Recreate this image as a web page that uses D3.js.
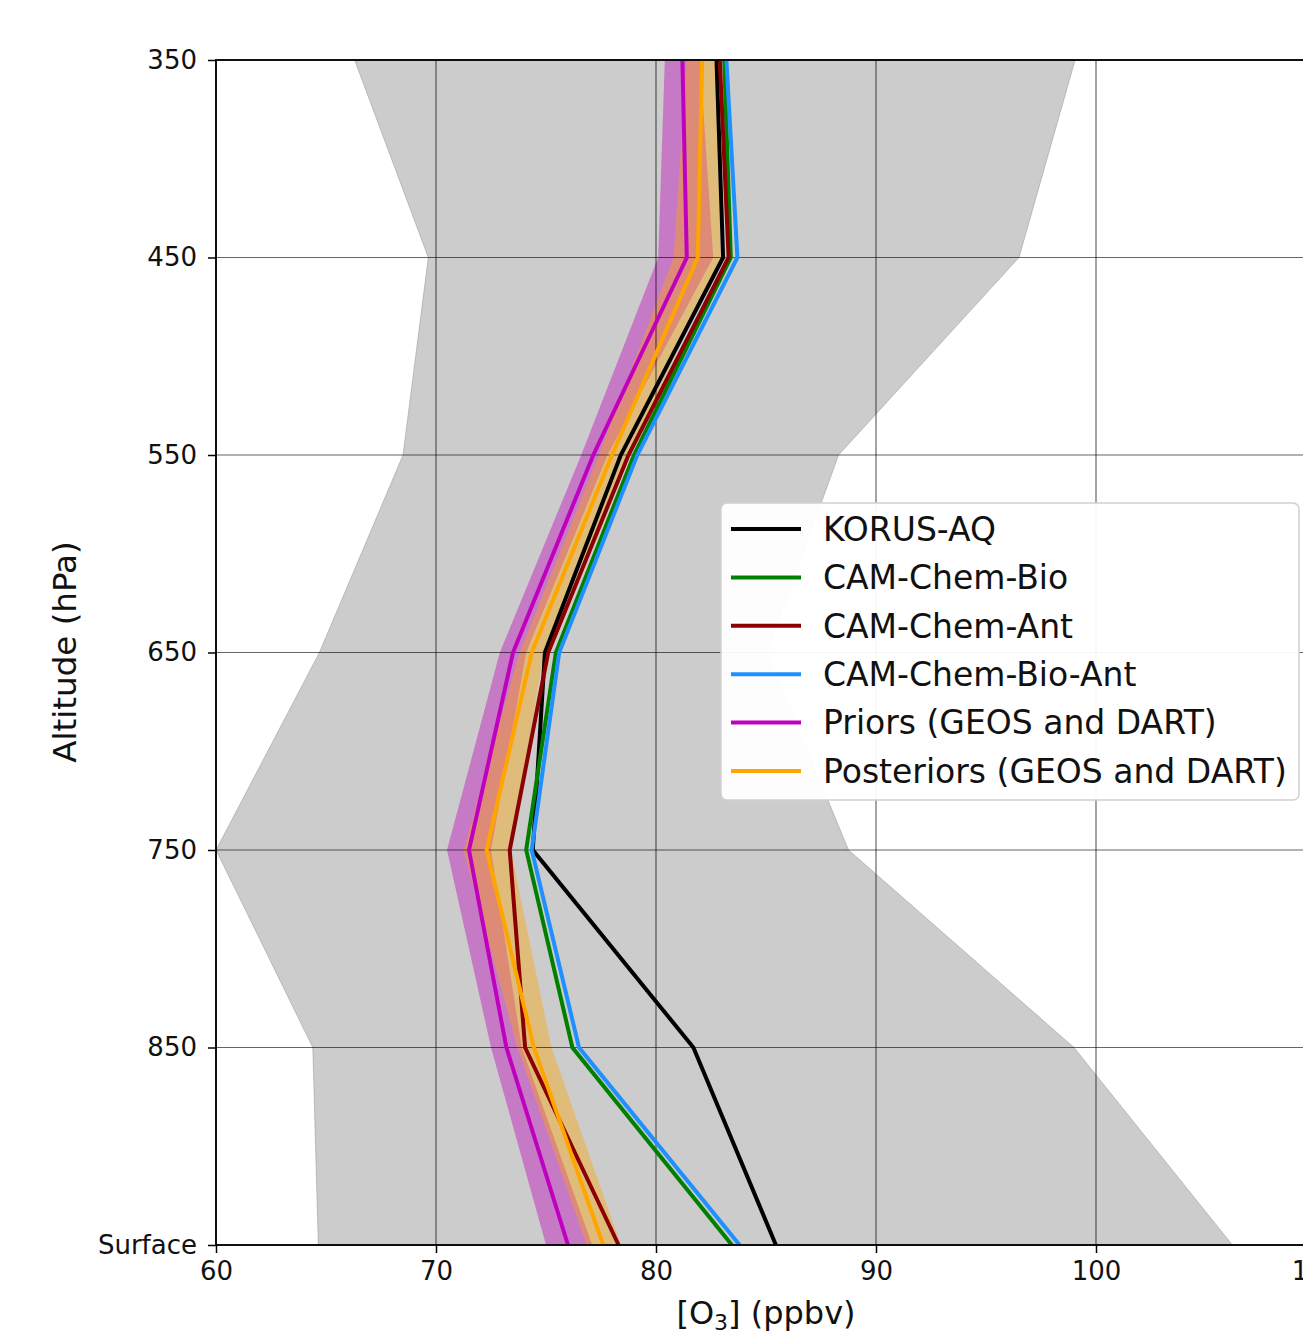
<!DOCTYPE html>
<html>
<head>
<meta charset="utf-8">
<script src="https://cdn.jsdelivr.net/npm/d3@7"></script>
<style>
  body { margin: 0; background: #fff; }
  svg { display: block; font-family: "DejaVu Sans", sans-serif; }
</style>
</head>
<body>
<script>
// pressure levels (950 stands for the surface level)
var levels = [350, 450, 550, 650, 750, 850, 950];
var levelLabels = ["350", "450", "550", "650", "750", "850", "Surface"];
var xTicks = [60, 70, 80, 90, 100, 110];

// O3 profiles (ppbv), one value per level
var korus     = [82.75, 83.05, 78.4, 74.95, 74.4, 81.7, 85.45];
var camBio    = [83.1, 83.4, 79.0, 75.45, 74.1, 76.2, 83.45];
var camAnt    = [82.9, 83.3, 78.75, 75.1, 73.35, 74.05, 78.3];
var camBioAnt = [83.2, 83.7, 79.15, 75.6, 74.35, 76.5, 83.8];
var priors    = [81.2, 81.4, 77.15, 73.5, 71.5, 73.2, 76.0];
var posts     = [82.1, 81.9, 78.0, 74.35, 72.3, 74.45, 77.6];

// spread of priors / posteriors
var priorsLo = [80.4, 80.1, 76.6, 72.9, 70.5, 72.5, 75.0];
var priorsHi = [82.0, 82.6, 77.8, 74.1, 72.5, 73.9, 77.1];
var postsLo  = [81.4, 80.8, 77.4, 73.8, 71.25, 73.7, 76.85];
var postsHi  = [82.7, 82.95, 78.75, 74.9, 73.4, 75.25, 78.4];

// KORUS-AQ range (grey envelope)
var obsLo = [66.3, 69.65, 68.5, 64.7, 60.0, 64.4, 64.65];
var obsHi = [99.05, 96.5, 88.3, 85.05, 88.75, 99.0, 106.2];

var seriesNames = ["KORUS-AQ", "CAM-Chem-Bio", "CAM-Chem-Ant", "CAM-Chem-Bio-Ant",
                   "Priors (GEOS and DART)", "Posteriors (GEOS and DART)"];
var seriesValues = [korus, camBio, camAnt, camBioAnt, priors, posts];
var seriesColors = ["#000000", "#008000", "#8b0000", "#1e90ff", "#bf00bf", "#ffa500"];

var W = 1303, H = 1335;
var pLeft = 216, pTop = 60, pRight = 1316, pBottom = 1245;

var svg = d3.select("body").append("svg")
    .attr("width", W)
    .attr("height", H);

var x = d3.scaleLinear().domain([60, 110]).range([pLeft, pRight]);
var y = d3.scaleLinear().domain([350, 950]).range([pTop, pBottom]);

function rows(lo, hi) {
    return levels.map(function(p, i) { return {p: p, lo: lo[i], hi: hi[i]}; });
}

var area = d3.area()
    .y(function(d) { return y(d.p); })
    .x0(function(d) { return x(d.lo); })
    .x1(function(d) { return x(d.hi); });

var line = d3.line()
    .x(function(d) { return x(d.v); })
    .y(function(d) { return y(d.p); });

var g = svg.append("g");

// envelope and bands
g.append("path")
    .attr("d", area(rows(obsLo, obsHi)))
    .attr("fill", "#808080").attr("fill-opacity", 0.4)
    .attr("stroke", "#808080").attr("stroke-opacity", 0.4).attr("stroke-width", 1);

g.append("path")
    .attr("d", area(rows(priorsLo, priorsHi)))
    .attr("fill", "#bf00bf").attr("fill-opacity", 0.4);

g.append("path")
    .attr("d", area(rows(postsLo, postsHi)))
    .attr("fill", "#ffa500").attr("fill-opacity", 0.4);

// grid
var grid = g.append("g").attr("stroke", "#000").attr("stroke-opacity", 0.6).attr("stroke-width", 1.2);
xTicks.forEach(function(t) {
    grid.append("line").attr("x1", x(t)).attr("x2", x(t)).attr("y1", pTop).attr("y2", pBottom);
});
levels.forEach(function(p) {
    grid.append("line").attr("x1", pLeft).attr("x2", pRight).attr("y1", y(p)).attr("y2", y(p));
});

// profile lines
seriesValues.forEach(function(vals, i) {
    var pts = levels.map(function(p, j) { return {p: p, v: vals[j]}; });
    g.append("path")
        .attr("d", line(pts))
        .attr("fill", "none")
        .attr("stroke", seriesColors[i])
        .attr("stroke-width", 4)
        .attr("stroke-linejoin", "miter");
});

// frame
svg.append("rect")
    .attr("x", pLeft).attr("y", pTop)
    .attr("width", pRight - pLeft).attr("height", pBottom - pTop)
    .attr("fill", "none").attr("stroke", "#000").attr("stroke-width", 1.8);

// axes
var xAxis = svg.append("g")
    .attr("transform", "translate(0," + pBottom + ")")
    .call(d3.axisBottom(x).tickValues(xTicks).tickFormat(d3.format("d")).tickSize(8).tickPadding(9).tickSizeOuter(0));

var yAxis = svg.append("g")
    .attr("transform", "translate(" + pLeft + ",0)")
    .call(d3.axisLeft(y).tickValues(levels)
        .tickFormat(function(d, i) { return levelLabels[i]; })
        .tickSize(8).tickPadding(11).tickSizeOuter(0));

[xAxis, yAxis].forEach(function(a) {
    a.select(".domain").remove();
    a.selectAll(".tick line").attr("stroke", "#000").attr("stroke-width", 1.5);
    a.selectAll(".tick text")
        .attr("fill", "#111")
        .style("font-family", "DejaVu Sans")
        .style("font-size", "26px");
});

// axis labels
var xl = svg.append("text")
    .attr("x", (pLeft + pRight) / 2)
    .attr("y", 1324)
    .attr("text-anchor", "middle")
    .style("font-size", "32px")
    .attr("fill", "#111");
xl.append("tspan").text("[O");
xl.append("tspan").text("3").attr("font-size", "22px").attr("dy", 6);
xl.append("tspan").text("] (ppbv)").attr("dy", -6);

svg.append("text")
    .attr("transform", "translate(76,652) rotate(-90)")
    .attr("text-anchor", "middle")
    .style("font-size", "32.5px")
    .attr("fill", "#111")
    .text("Altitude (hPa)");

// legend
var lg = svg.append("g");
lg.append("rect")
    .attr("x", 721).attr("y", 503)
    .attr("width", 578).attr("height", 297)
    .attr("rx", 6)
    .attr("fill", "#fff").attr("fill-opacity", 0.95)
    .attr("stroke", "#d0d0d0").attr("stroke-width", 1.5);

seriesNames.forEach(function(name, i) {
    var yy = 529 + i * 48.4;
    lg.append("line")
        .attr("x1", 731).attr("x2", 801)
        .attr("y1", yy).attr("y2", yy)
        .attr("stroke", seriesColors[i]).attr("stroke-width", 4);
    lg.append("text")
        .attr("x", 823).attr("y", yy)
        .attr("dy", "0.36em")
        .style("font-size", "33px")
        .attr("fill", "#111")
        .text(name);
});
</script>
</body>
</html>
